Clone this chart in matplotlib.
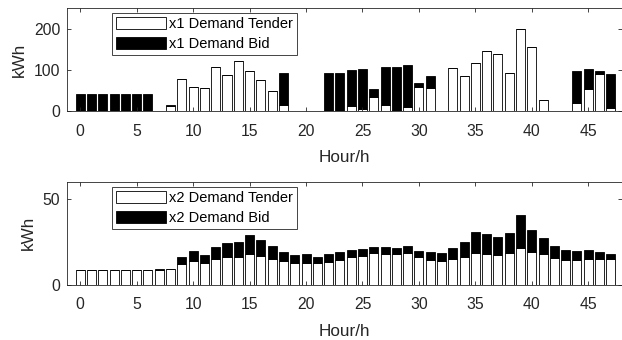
import numpy as np
import matplotlib.pyplot as plt

hours = np.arange(48)

# x1 demand (kWh): tender part + bid part, stacked
x1_tender = [0, 0, 0, 0, 0, 0, 0, 0, 11, 78, 58, 56, 106, 88, 122, 97,
             75, 48, 14, 0, 0, 0, 0, 0, 12, 6, 35, 15, 3, 9, 58, 56,
             0, 104, 85, 117, 145, 139, 93, 200, 156, 27, 0, 0, 20, 54, 90, 7]
x1_bid = [42, 42, 42, 42, 42, 42, 42, 0, 3, 0, 0, 0, 0, 0, 0, 0,
          0, 0, 79, 0, 0, 0, 92, 93, 89, 97, 18, 91, 103, 104, 9, 29,
          0, 0, 0, 0, 0, 0, 0, 0, 0, 0, 0, 0, 78, 49, 8, 84]

# x2 demand (kWh)
x2_tender = [8.7, 8.7, 8.7, 8.7, 8.7, 8.7, 8.7, 8.7, 9.0, 12.2, 14.2, 13.0, 15.2, 16.3, 16.1, 18.0,
             17.1, 15.2, 13.8, 12.8, 12.8, 12.6, 13.6, 14.7, 16.3, 17.1, 18.3, 18.1, 18.1, 18.7, 16.3, 14.4,
             13.8, 15.2, 16.1, 18.7, 17.9, 17.5, 18.5, 21.6, 19.1, 17.7, 15.8, 14.4, 14.3, 14.8, 14.8, 14.8]
x2_total = [8.7, 8.7, 8.7, 8.7, 8.7, 8.7, 8.7, 9.0, 9.3, 16.3, 19.8, 17.5, 21.8, 24.1, 24.7, 28.8,
            26.3, 22.4, 18.9, 17.5, 17.9, 16.1, 17.9, 18.9, 20.2, 20.8, 22.2, 21.8, 21.4, 22.8, 19.8, 18.9,
            18.3, 21.2, 24.7, 30.7, 29.4, 28.0, 30.0, 40.4, 31.7, 27.2, 22.8, 20.2, 20.0, 20.2, 19.4, 17.9]
x2_bid = [t - d for t, d in zip(x2_total, x2_tender)]

plt.rcParams['font.family'] = 'Liberation Sans'
grey = '#262626'

fig = plt.figure(figsize=(6.22, 3.4), dpi=100)
ax1 = fig.add_axes([0.1072, 0.6735, 0.893, 0.302])
ax2 = fig.add_axes([0.1072, 0.1618, 0.893, 0.304])

panels = [(ax1, x1_tender, x1_bid, 'x1', 250, [0, 100, 200], 0.957),
          (ax2, x2_tender, x2_bid, 'x2', 60, [0, 50], 0.952)]

for ax, tender, bid, name, ymax, yt, legy in panels:
    ax.bar(hours, tender, width=0.8, color='white', edgecolor='k', linewidth=0.6,
           label=name + ' Demand Tender')
    ax.bar(hours, bid, width=0.8, bottom=tender, color='black', edgecolor='k', linewidth=0.6,
           label=name + ' Demand Bid')
    ax.set_xlim(-1.2, 48)
    ax.set_ylim(0, ymax)
    ax.set_xticks(range(0, 46, 5))
    ax.set_yticks(yt)
    ax.tick_params(direction='in', top=True, right=True, length=3, width=0.6,
                   labelsize=11.3, colors=grey, labelcolor=grey)
    ax.tick_params(axis='x', pad=9)
    ax.tick_params(axis='y', pad=4.5)
    for s in ax.spines.values():
        s.set_linewidth(0.6)
        s.set_color(grey)
    ax.set_xlabel('Hour/h', fontsize=12.3, color=grey, labelpad=8)
    ax.set_ylabel('kWh', fontsize=12.3, color=grey, labelpad=5)
    leg = ax.legend(loc='upper left', bbox_to_anchor=(0.081, legy), borderaxespad=0,
                    fontsize=10.5, handlelength=3.42, handleheight=0.89, handletextpad=0.23,
                    borderpad=0.28, labelspacing=0.4, fancybox=False, framealpha=1)
    leg.get_frame().set_edgecolor(grey)
    leg.get_frame().set_linewidth(0.6)

fig.savefig('out.png', dpi=100)
